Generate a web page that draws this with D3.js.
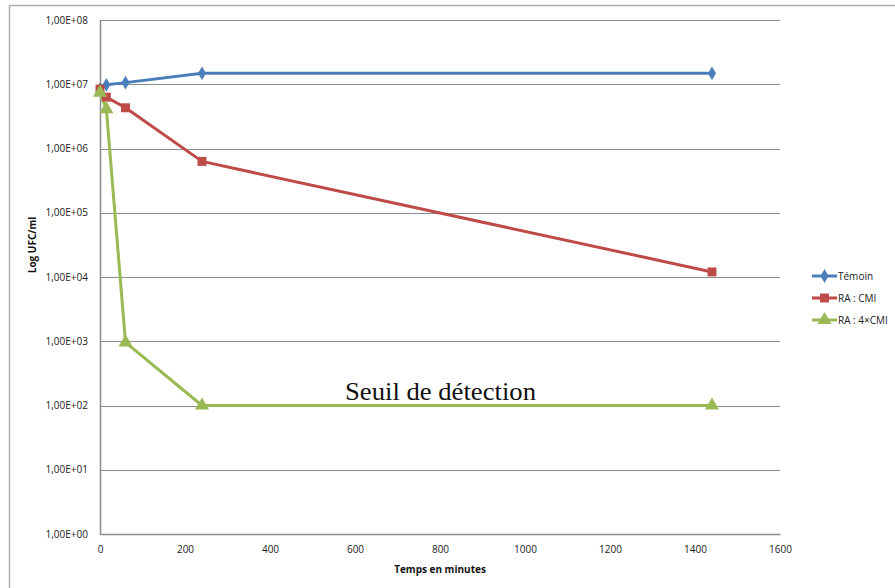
<!DOCTYPE html>
<html><head><meta charset="utf-8">
<script src="https://cdn.jsdelivr.net/npm/d3@7"></script>
<style>body{margin:0;background:#fff}svg{display:block}</style>
</head><body>
<svg id="c" width="895" height="588"></svg>
<script>
const times = [0, 15, 60, 240, 1440];
const temoin = [8.4e6, 9.8e6, 1.06e7, 1.48e7, 1.48e7];
const raCMI = [8.4e6, 6.3e6, 4.3e6, 6.3e5, 1.2e4];
const ra4CMI = [7.4e6, 4.1e6, 9.6e2, 1e2, 1e2];
const xTicks = [0, 200, 400, 600, 800, 1000, 1200, 1400, 1600];
const yTicks = [1e0, 1e1, 1e2, 1e3, 1e4, 1e5, 1e6, 1e7, 1e8];
const yTickLabels = ["1,00E+00","1,00E+01","1,00E+02","1,00E+03","1,00E+04","1,00E+05","1,00E+06","1,00E+07","1,00E+08"];
const seriesNames = ["Témoin", "RA : CMI", "RA : 4×CMI"];
const colors = ["#4a7ebb", "#be4b48", "#98b954"];
const annotation = "Seuil de détection";

const svg = d3.select("#c");
const font = "'Open Sans', 'Liberation Sans', sans-serif";
const L = 100, R = 780, T = 20, B = 534;
const x = d3.scaleLinear().domain([0, 1600]).range([L, R]);
const y = d3.scaleLog().domain([1, 1e8]).range([B, T]);

// outer frame (partial)
svg.append("line").attr("x1", 9.5).attr("x2", 895).attr("y1", 5.5).attr("y2", 5.5).attr("stroke", "#b0b0b0").attr("stroke-width", 1.5);
svg.append("line").attr("x1", 9.5).attr("x2", 9.5).attr("y1", 5.5).attr("y2", 588).attr("stroke", "#b0b0b0").attr("stroke-width", 1.5);

// gridlines
svg.append("g").selectAll("line").data(yTicks.slice(1)).join("line")
  .attr("x1", L).attr("x2", R).attr("y1", d => Math.round(y(d)) + 0.5).attr("y2", d => Math.round(y(d)) + 0.5)
  .attr("stroke", "#8c8c8c").attr("stroke-width", 1);

// axes
const yAxis = d3.axisLeft(y).tickValues(yTicks).tickFormat((d, i) => yTickLabels[i]).tickSize(0).tickPadding(12);
const gy = svg.append("g").attr("transform", `translate(${L},0)`).call(yAxis);
gy.select(".domain").attr("stroke", "#8c8c8c").attr("stroke-width", 1.5);
gy.selectAll("text").attr("font-family", font).attr("font-size", 10).attr("fill", "#222");

const xAxis = d3.axisBottom(x).tickValues(xTicks).tickFormat(d3.format("d")).tickSize(0).tickPadding(12);
const gx = svg.append("g").attr("transform", `translate(0,${B})`).call(xAxis);
gx.select(".domain").attr("stroke", "#8c8c8c").attr("stroke-width", 1.5);
gx.selectAll("text").attr("font-family", font).attr("font-size", 10).attr("fill", "#222");

// axis titles
svg.append("text").attr("x", 440).attr("y", 573).attr("text-anchor", "middle")
  .attr("font-family", font).attr("font-size", 10).attr("font-weight", "bold").attr("fill", "#111").text("Temps en minutes");
svg.append("text").attr("transform", "translate(36,245) rotate(-90)").attr("text-anchor", "middle")
  .attr("font-family", font).attr("font-size", 10).attr("font-weight", "bold").attr("fill", "#111").text("Log UFC/ml");

// series
const allSeries = [temoin, raCMI, ra4CMI];
const line = d3.line().x((d, i) => x(times[i])).y(d => y(d));
const symbols = [d3.symbolDiamond, d3.symbolSquare, d3.symbolTriangle];
const symSizes = [55, 80, 85];
allSeries.forEach((s, k) => {
  svg.append("path").datum(s).attr("d", line).attr("fill", "none")
    .attr("stroke", colors[k]).attr("stroke-width", 3).attr("stroke-linejoin", "round");
});
allSeries.forEach((s, k) => {
  svg.append("g").selectAll("path").data(s).join("path")
    .attr("d", d3.symbol().type(symbols[k]).size(symSizes[k]))
    .attr("transform", (d, i) => `translate(${x(times[i])},${y(d)})`)
    .attr("fill", colors[k]);
});

// annotation
svg.append("text").attr("x", 345).attr("y", 400).attr("font-family", "'Liberation Serif', 'Times New Roman', serif")
  .attr("font-size", 25).attr("textLength", 191).attr("lengthAdjust", "spacingAndGlyphs")
  .attr("fill", "#111").text(annotation);

// legend
const lg = svg.append("g");
seriesNames.forEach((n, k) => {
  const yy = 276 + k * 22;
  lg.append("line").attr("x1", 812).attr("x2", 837).attr("y1", yy).attr("y2", yy).attr("stroke", colors[k]).attr("stroke-width", 3);
  lg.append("path").attr("d", d3.symbol().type(symbols[k]).size(symSizes[k])).attr("transform", `translate(824.5,${yy})`).attr("fill", colors[k]);
  lg.append("text").attr("x", 838).attr("y", yy + 3.5).attr("font-family", font).attr("font-size", 10).attr("fill", "#222").text(n);
});
</script>
</body></html>
